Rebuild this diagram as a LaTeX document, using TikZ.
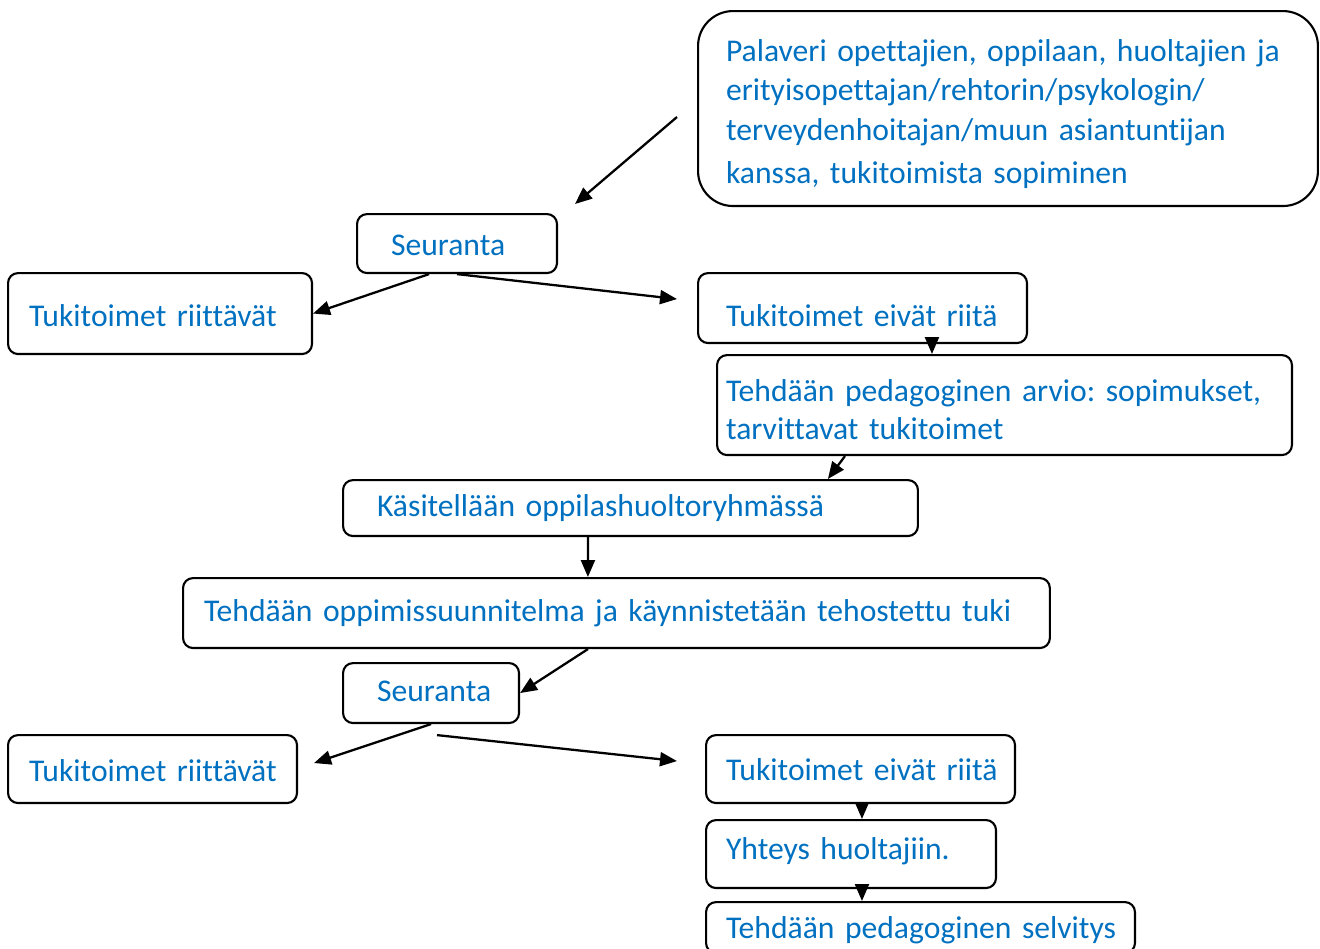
\documentclass[tikz,border=0pt]{standalone}
\usepackage{fontspec}
\setmainfont{Carlito}[Ligatures=CommonOff]
\usepackage{xcolor}
\usetikzlibrary{positioning, arrows.meta}
\definecolor{tekstisini}{HTML}{0070C0}
\frenchspacing

\begin{document}
\begin{tikzpicture}
  [x=0.02cm, y=-0.02cm,
   laatikko/.style={draw, line width=1.2pt, rounded corners=0.2cm, anchor=north west,
     align=left, text=tekstisini, font=\fontsize{18}{22.5}\selectfont, inner ysep=0pt},
   rivi/.style={execute at begin node=\hbox\bgroup, execute at end node=\egroup},
   nuoli/.style={-{Triangle[length=0.34cm,width=0.28cm]}, line width=1.3pt}]
  \useasboundingbox (0,0) rectangle (1320,948);

  % nodes %
  \node[laatikko, rounded corners=0.7cm, inner xsep=0.56cm, text width=11.28cm,
    text height=1.0cm, text depth=2.9cm] (palaveri) at (697,10)
    {Palaveri opettajien, oppilaan, huoltajien ja\\ erityisopettajan/rehtorin/psykologin/\\
    terveydenhoitajan/muun asiantuntijan\\[2pt] kanssa, tukitoimista sopiminen};
  \node[laatikko, rivi, inner xsep=0.68cm, text width=2.64cm, text height=0.82cm, text depth=0.36cm] (seur1) at (356,213) {Seuranta};
  \node[laatikko, rivi, inner xsep=0.42cm, text width=5.24cm, text height=1.06cm, text depth=0.56cm] (riit1) at (7,272) {Tukitoimet riittävät};
  \node[laatikko, rivi, inner xsep=0.56cm, text width=5.46cm, text height=1.06cm, text depth=0.34cm] (eiriit1) at (697,272) {Tukitoimet eivät riitä};
  \node[laatikko, inner xsep=0.18cm, text width=11.14cm, text height=0.92cm, text depth=1.08cm] (arvio) at (716,354)
    {Tehdään pedagoginen arvio: sopimukset,\\[-0.8pt] tarvittavat tukitoimet};
  \node[laatikko, rivi, inner xsep=0.68cm, text width=10.14cm, text height=0.72cm, text depth=0.40cm] (kasit) at (342,479) {Käsitellään oppilashuoltoryhmässä};
  \node[laatikko, rivi, inner xsep=0.42cm, text width=16.5cm, text height=0.86cm, text depth=0.54cm] (suunn) at (182,577)
    {Tehdään oppimissuunnitelma ja käynnistetään tehostettu tuki};
  \node[laatikko, rivi, inner xsep=0.68cm, text width=2.16cm, text height=0.76cm, text depth=0.44cm] (seur2) at (342,662) {Seuranta};
  \node[laatikko, rivi, inner xsep=0.42cm, text width=4.94cm, text height=0.92cm, text depth=0.44cm] (riit2) at (7,734) {Tukitoimet riittävät};
  \node[laatikko, rivi, inner xsep=0.4cm, text width=5.38cm, text height=0.90cm, text depth=0.46cm] (eiriit2) at (705,734) {Tukitoimet eivät riitä};
  \node[laatikko, rivi, inner xsep=0.4cm, text width=5.0cm, text height=0.78cm, text depth=0.58cm] (yhteys) at (705,819) {Yhteys huoltajiin.};
  \node[laatikko, rivi, inner xsep=0.4cm, text width=7.78cm, text height=0.72cm, text depth=0.30cm] (selv) at (705,901) {Tehdään pedagoginen selvitys};
  \coordinate (alku) at (677,117);
  \coordinate (loppu) at (575,204);

  % edges %
  \draw[nuoli] (alku) -- (loppu);
  \draw[nuoli] ([xshift=-0.56cm]seur1.south) -- (riit1.east);
  \draw[nuoli] (seur1.south) -- ([xshift=-0.4cm,yshift=0.18cm]eiriit1.west);
  \draw[nuoli] ([xshift=4.7cm]eiriit1.south west) -- ([xshift=4.32cm]arvio.north west);
  \draw[nuoli] ([xshift=2.58cm]arvio.south west) -- ([xshift=9.72cm]kasit.north west);
  \draw[nuoli] ([xshift=4.92cm]kasit.south west) -- ([xshift=8.12cm]suunn.north west);
  \draw[nuoli] ([xshift=8.12cm]suunn.south west) -- (seur2.east);
  \draw[nuoli] (seur2.south) -- ([xshift=0.32cm,yshift=0.12cm]riit2.east);
  \draw[nuoli] ([xshift=0.12cm,yshift=-0.22cm]seur2.south) -- ([xshift=-0.56cm,yshift=0.16cm]eiriit2.west);
  \draw[nuoli] ([xshift=3.14cm]eiriit2.south west) -- ([xshift=3.14cm]yhteys.north west);
  \draw[nuoli] ([xshift=3.14cm]yhteys.south west) -- ([xshift=3.14cm]selv.north west);
\end{tikzpicture}
\end{document}
